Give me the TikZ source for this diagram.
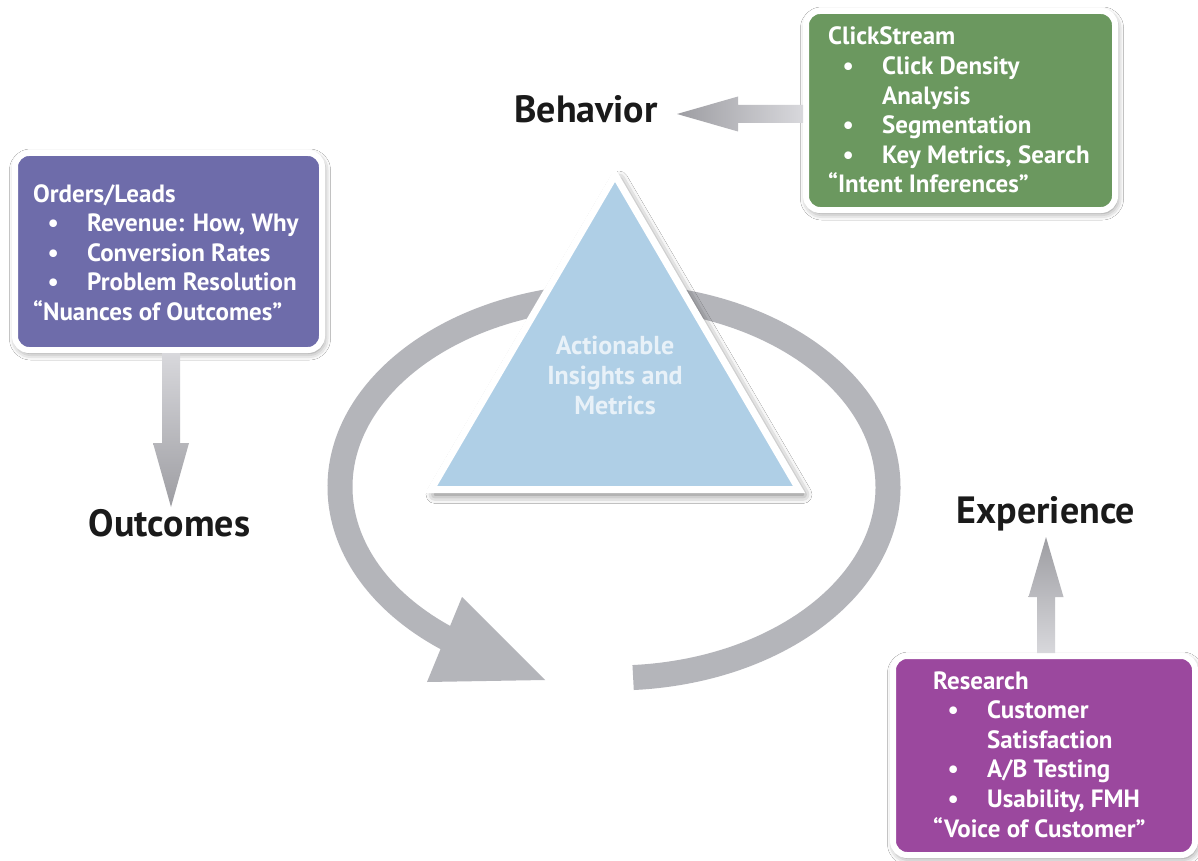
\documentclass[tikz,border=0pt]{standalone}
\usepackage{fontspec}
\setmainfont{PT Sans}
\usetikzlibrary{calc,shadows.blur}
\definecolor{gboxc}{HTML}{6B985F}
\definecolor{pboxc}{HTML}{6E6CAA}
\definecolor{mboxc}{HTML}{9B489E}
\definecolor{triblue}{HTML}{AFCFE6}
\definecolor{ringgray}{HTML}{B4B5BA}
\definecolor{ardark}{HTML}{9D9DA2}
\definecolor{arlight}{HTML}{D8D8DC}
\definecolor{lblack}{HTML}{1A1A1A}
\definecolor{trtext}{HTML}{E8F1F8}
\newcommand{\itm}[1]{\makebox[40pt][c]{\textbullet}\hspace{14pt}#1}
\begin{document}
\begin{tikzpicture}[x=1pt,y=-1pt,
  box/.style={draw=white, line width=6pt, rounded corners=14pt, inner sep=0pt,
    blur shadow={shadow xshift=1.5pt, shadow yshift=-3pt, shadow blur radius=7pt, shadow opacity=50}},
  bt/.style={text=white, font=\bfseries\fontsize{25}{30}\selectfont, inner sep=0pt, anchor=base west},
  lbl/.style={text=lblack, font=\bfseries\fontsize{38}{40}\selectfont, inner sep=0pt, anchor=base},
  ringline/.style={draw=ringgray, line width=25pt},
  tritext/.style={text=trtext, font=\bfseries\fontsize{26}{30}\selectfont, align=center, inner sep=0pt}
  ]
\useasboundingbox (0,0) rectangle (1198,861);
\fill[white] (0,0) rectangle (1198,861);

% ring arrow
\coordinate (ringc) at (614,487);
\draw[ringline] (ringc) ++(86:274 and 191) arc[start angle=86, end angle=-233, x radius=274, y radius=191];
\fill[ringgray] (462,597) -- (545,680) -- (427,682) -- cycle;

% triangle
\path[fill=triblue, draw=white, line width=7pt, line join=miter,
  blur shadow={shadow xshift=4pt, shadow yshift=-5pt, shadow blur radius=9pt, shadow opacity=60}]
  (615,175) -- (431,489.5) -- (799,489.5) -- cycle;
\node[tritext] (tri) at (615,375) {Actionable\\Insights and\\Metrics};

% boxes
\node[box, fill=gboxc, minimum width=309pt, minimum height=199pt] (gbox) at (960.5,110.5) {};
\node[box, fill=pboxc, minimum width=307pt, minimum height=197pt] (pbox) at (168.5,251.5) {};
\node[box, fill=mboxc, minimum width=302pt, minimum height=199pt] (mbox) at (1044,755.5) {};

% green text
\node[bt] (g1) at (828,45) {ClickStream};
\node[bt] (g2) at (828,74.6) {\itm{Click Density}};
\node[bt] (g3) at (882,104.2) {Analysis};
\node[bt] (g4) at (828,133.8) {\itm{Segmentation}};
\node[bt] (g5) at (828,163.4) {\itm{Key Metrics, Search}};
\node[bt] (g6) at (828,193) {“Intent Inferences”};

% purple text
\node[bt] (p1) at (33,202) {Orders/Leads};
\node[bt] (p2) at (33,231.5) {\itm{Revenue: How, Why}};
\node[bt] (p3) at (33,261) {\itm{Conversion Rates}};
\node[bt] (p4) at (33,290.5) {\itm{Problem Resolution}};
\node[bt] (p5) at (33,320) {“Nuances of Outcomes”};

% magenta text
\node[bt] (m1) at (933,689) {Research};
\node[bt] (m2) at (933,718.6) {\itm{Customer}};
\node[bt] (m3) at (987,748.2) {Satisfaction};
\node[bt] (m4) at (933,777.8) {\itm{A/B Testing}};
\node[bt] (m5) at (933,807.4) {\itm{Usability, FMH}};
\node[bt] (m6) at (933,837) {“Voice of Customer”};

% labels
\node[lbl] (beh) at (586,123) {Behavior};
\node[lbl] (out) at (169.5,536) {Outcomes};
\node[lbl] (exp) at (1046,523) {Experience};

% arrows
\coordinate (bT) at ($(gbox.west)+(0,3.5)$);
\coordinate (bP) at (677,114);
\shade[left color=ardark, right color=arlight]
  ($(bT)+(0,-9)$) -- ($(bP)+(61,-9)$) -- ($(bP)+(61,-17.5)$) -- (bP)
  -- ($(bP)+(61,17.5)$) -- ($(bP)+(61,9)$) -- ($(bT)+(0,9)$) -- cycle;

\coordinate (oT) at ($(pbox.south)+(2.5,0)$);
\coordinate (oP) at (171,507);
\shade[top color=arlight, bottom color=ardark]
  ($(oT)+(-9,0)$) -- ($(oP)+(-9,-64)$) -- ($(oP)+(-18,-64)$) -- (oP)
  -- ($(oP)+(18,-64)$) -- ($(oP)+(9,-64)$) -- ($(oT)+(9,0)$) -- cycle;

\coordinate (eT) at ($(mbox.north)+(2,0)$);
\coordinate (eP) at (1046,537);
\shade[top color=ardark, bottom color=arlight]
  ($(eT)+(-9,0)$) -- ($(eP)+(-9,60)$) -- ($(eP)+(-17.5,60)$) -- (eP)
  -- ($(eP)+(17.5,60)$) -- ($(eP)+(9,60)$) -- ($(eT)+(9,0)$) -- cycle;
\end{tikzpicture}
\end{document}
